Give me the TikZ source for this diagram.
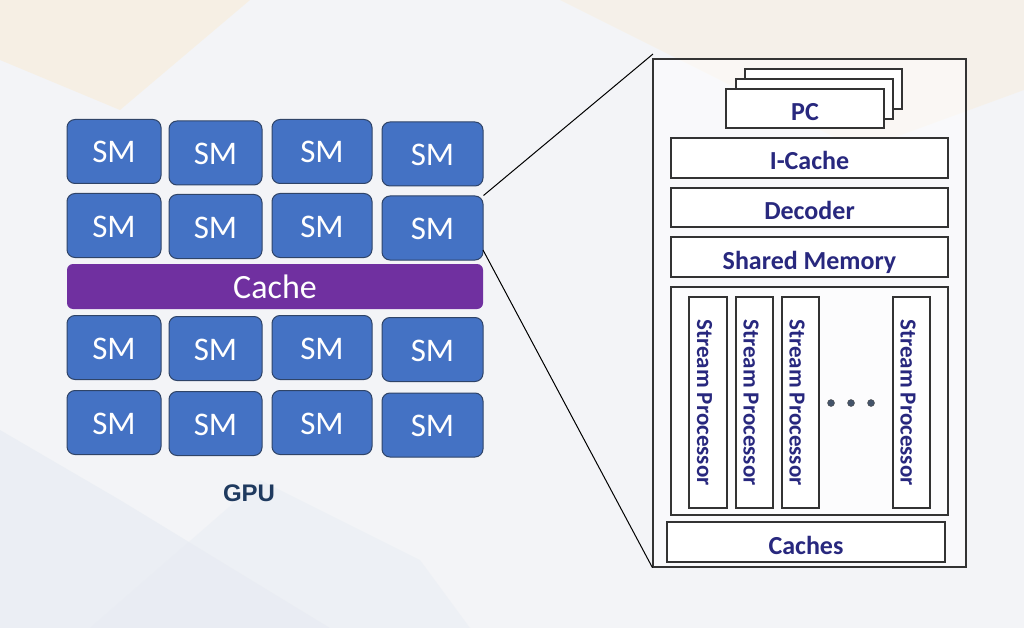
\documentclass[tikz,border=0pt]{standalone}
\usepackage{fontspec}
\usepackage{tikz}
\setmainfont{Carlito}
\newfontfamily\arialfont{Liberation Sans}
\definecolor{smblue}{HTML}{4472C4}
\definecolor{smedge}{HTML}{2F4468}
\definecolor{cachepurple}{HTML}{7030A0}
\definecolor{labelnavy}{HTML}{28287E}
\definecolor{gpunavy}{HTML}{1F3A5F}
\definecolor{bgpaper}{HTML}{F3F4F7}
\definecolor{bgorange}{HTML}{F8EEDC}
\definecolor{bgblue}{HTML}{E6EBF2}
\definecolor{dotgray}{HTML}{44546A}

\begin{document}
\begin{tikzpicture}[x=1pt,y=-1pt,
	sm/.style={draw=smedge, line width=1pt, fill=smblue, rounded corners=8pt, inner sep=0pt, minimum height=64pt, text=white, font=\fontsize{33}{36}\selectfont, text height=23pt, text depth=0pt},
	cachebar/.style={fill=cachepurple, rounded corners=6pt, inner sep=0pt, text=white, font=\fontsize{34}{36}\selectfont},
	unitbox/.style={draw=black!80, line width=1.2pt, fill=white, inner sep=0pt, text=labelnavy, font=\bfseries\fontsize{26}{28}\selectfont, text height=24pt, text depth=0pt},
	spbox/.style={unitbox, font=\bfseries\fontsize{23}{25}\selectfont, text height=22pt},
	dotmark/.style={circle, draw=black!70, fill=dotgray, inner sep=0pt, minimum size=7pt}]
			\useasboundingbox (0,0) rectangle (1024,628);
			\fill[bgpaper] (0,0) rectangle (1024,628);
			\fill[bgorange, opacity=.7] (0,0) -- (250,0) -- (120,110) -- (0,60) -- cycle;
			\fill[bgorange, opacity=.5] (560,0) -- (1024,0) -- (1024,90) -- (860,150) -- cycle;
			\fill[bgblue, opacity=.6] (0,430) -- (120,500) -- (330,628) -- (0,628) -- cycle;
			\fill[bgblue, opacity=.4] (90,628) -- (260,480) -- (420,560) -- (470,628) -- cycle;
			\node[sm, minimum width=94pt] (sm11) at (114,151.5) {SM};
			\node[sm, minimum width=93pt] (sm12) at (215.5,153) {SM};
			\node[sm, minimum width=100pt] (sm13) at (322,151.5) {SM};
			\node[sm, minimum width=101pt] (sm14) at (432.5,154) {SM};
			\node[sm, minimum width=94pt] (sm21) at (114,225.5) {SM};
			\node[sm, minimum width=93pt] (sm22) at (215.5,226.5) {SM};
			\node[sm, minimum width=100pt] (sm23) at (322,225.5) {SM};
			\node[sm, minimum width=101pt] (sm24) at (432.5,228) {SM};
			\node[cachebar, minimum width=416pt, minimum height=45pt] (cache) at (275,286.5) {Cache};
			\node[sm, minimum width=94pt] (sm31) at (114,347.5) {SM};
			\node[sm, minimum width=93pt] (sm32) at (215.5,348.5) {SM};
			\node[sm, minimum width=100pt] (sm33) at (322,347.5) {SM};
			\node[sm, minimum width=101pt] (sm34) at (432.5,349.5) {SM};
			\node[sm, minimum width=94pt] (sm41) at (114,422.5) {SM};
			\node[sm, minimum width=93pt] (sm42) at (215.5,423.5) {SM};
			\node[sm, minimum width=100pt] (sm43) at (322,422.5) {SM};
			\node[sm, minimum width=101pt] (sm44) at (432.5,425) {SM};
			\node[text=gpunavy, font=\arialfont\bfseries\fontsize{24}{26}\selectfont] (gpu) at (249,493) {GPU};
			\node[draw=black!80, line width=1.2pt, fill=white, fill opacity=.5, minimum width=313pt, minimum height=508pt] (panel) at (809.5,313) {};
			\node[unitbox, minimum width=157pt, minimum height=40pt] (pcback) at (823.5,89) {};
			\node[unitbox, minimum width=157pt, minimum height=40pt] (pcmid) at (814.5,99) {};
			\node[unitbox, minimum width=158pt, minimum height=39pt] (pc) at (805,108.5) {PC};
			\node[unitbox, minimum width=277pt, minimum height=40pt] (icache) at (809.5,158) {I-Cache};
			\node[unitbox, minimum width=277pt, minimum height=39pt] (decoder) at (809.5,207.5) {Decoder};
			\node[unitbox, minimum width=277pt, minimum height=40pt] (shmem) at (809.5,257) {Shared Memory};
			\node[unitbox, fill opacity=.5, minimum width=277pt, minimum height=228pt] (spframe) at (809.5,401) {};
			\node[spbox, rotate=-90, minimum width=211pt, minimum height=38pt] (sp1) at (708,402.5) {Stream Processor};
			\node[spbox, rotate=-90, minimum width=211pt, minimum height=37pt] (sp2) at (754.5,402.5) {Stream Processor};
			\node[spbox, rotate=-90, minimum width=211pt, minimum height=37pt] (sp3) at (800.5,402.5) {Stream Processor};
			\node[spbox, rotate=-90, minimum width=211pt, minimum height=37pt] (sp4) at (911.5,402.5) {Stream Processor};
			\node[dotmark] (dot1) at (831,403) {};
			\node[dotmark] (dot2) at (851,403) {};
			\node[dotmark] (dot3) at (871,403) {};
			\node[unitbox, minimum width=278pt, minimum height=40pt] (caches) at (806,542) {Caches};
			\coordinate (zoomtop) at (653,54);
			\coordinate (zoombot) at (483,250);
			\draw[line width=1pt] (sm24.north east) -- (zoomtop);
			\draw[line width=1pt] (zoombot) -- (panel.south west);
\end{tikzpicture}
\end{document}
